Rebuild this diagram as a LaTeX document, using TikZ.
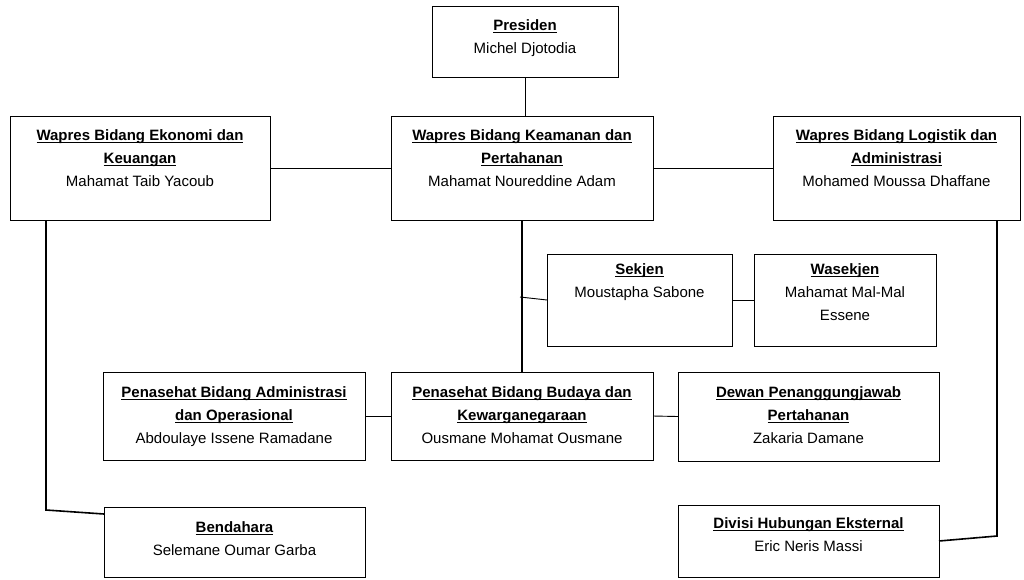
\documentclass[tikz,border=0pt]{standalone}
\usepackage{fontspec}
\setmainfont{Liberation Sans}
\newcommand\hd[1]{\leavevmode{\bfseries\setbox0\hbox{#1}\rlap{\rule[-3.3pt]{\wd0}{1.2pt}}\box0}}
\newcommand\orgbox[6]{\node[ob] (#1) at (#2) {\parbox[c][#4pt][t]{#3pt}{\centering\rule{0pt}{#5pt}#6}};}
\tikzset{
  ob/.style={draw, line width=0.9pt, inner sep=0pt, outer sep=0pt, anchor=north west,
    font=\fontsize{15}{23}\selectfont},
  ln/.style={line width=0.9pt},
  thk/.style={line width=1.6pt},
}
\begin{document}
\begin{tikzpicture}[x=1pt,y=-1pt]
\useasboundingbox[fill=white] (0,0) rectangle (1024,579);
\orgbox{pres}{432,6}{186}{71}{24}{\hd{Presiden}\\ Michel Djotodia}
\orgbox{eko}{10,116}{260}{104}{24}{\hd{Wapres Bidang Ekonomi dan}\\ \hd{Keuangan}\\ Mahamat Taib Yacoub}
\orgbox{kea}{391,116}{262}{104}{24}{\hd{Wapres Bidang Keamanan dan}\\ \hd{Pertahanan}\\ Mahamat Noureddine Adam}
\orgbox{log}{773,116}{247}{104}{24}{\hd{Wapres Bidang Logistik dan}\\ \hd{Administrasi}\\ Mohamed Moussa Dhaffane}
\orgbox{sek}{547,254}{185}{92}{20}{\hd{Sekjen}\\ Moustapha Sabone}
\orgbox{wsk}{754,254}{182}{92}{20}{\hd{Wasekjen}\\ Mahamat Mal-Mal\\ Essene}
\orgbox{adm}{103,372}{262}{88}{25}{\hd{Penasehat Bidang Administrasi}\\ \hd{dan Operasional}\\ Abdoulaye Issene Ramadane}
\orgbox{bud}{391,372}{262}{88}{25}{\hd{Penasehat Bidang Budaya dan}\\ \hd{Kewarganegaraan}\\ Ousmane Mohamat Ousmane}
\orgbox{dew}{678,372}{261}{89}{25}{\hd{Dewan Penanggungjawab}\\ \hd{Pertahanan}\\ Zakaria Damane}
\orgbox{ben}{104,507}{261}{70}{25}{\hd{Bendahara}\\ Selemane Oumar Garba}
\orgbox{div}{678,505}{261}{72}{23}{\hd{Divisi Hubungan Eksternal}\\ Eric Neris Massi}
\draw[ln] (pres.south) -- (pres.south |- kea.north);
\draw[ln] (eko.east) -- (kea.west);
\draw[ln] (kea.east) -- (log.west);
\draw[thk] (kea.south) -- (bud.north);
\coordinate (tk) at (520,297);
\draw[ln] (tk) -- (sek.west);
\draw[ln] (sek.east) -- (wsk.west);
\draw[ln] (adm.east) -- (bud.west);
\draw[ln] (bud.east) -- (dew.west);
\coordinate (ek) at (46,510);
\draw[thk] (eko.south -| ek) -- (ek) -- ([yshift=-7pt]ben.north west);
\coordinate (lk) at (997,536);
\draw[thk] (log.south -| lk) -- (lk) -- (div.east);
\end{tikzpicture}
\end{document}
